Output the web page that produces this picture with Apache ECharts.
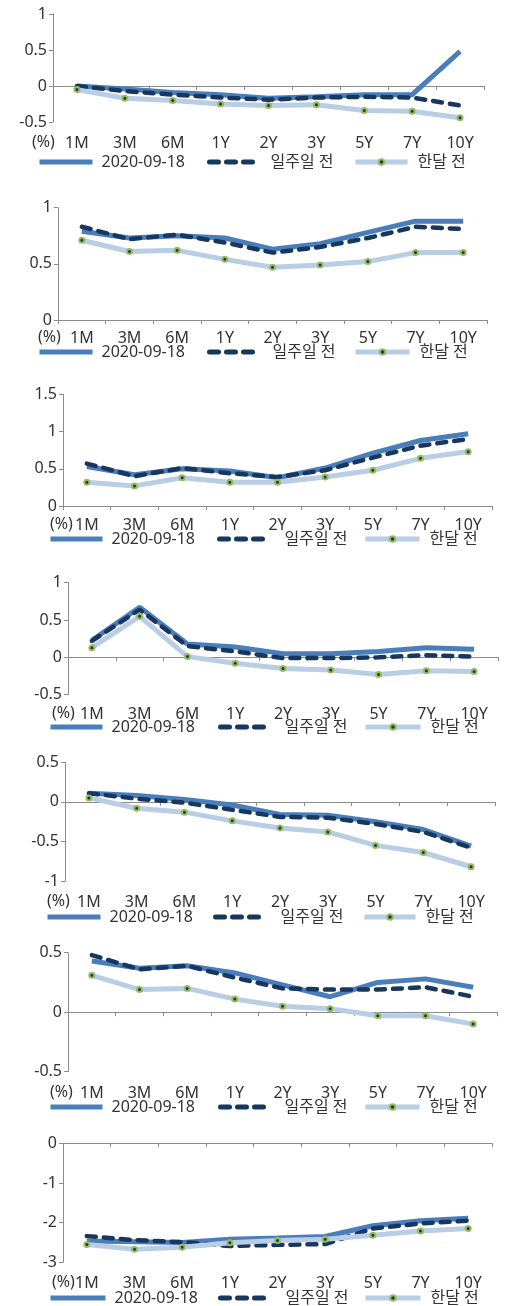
<!DOCTYPE html>
<html>
<head>
<meta charset="utf-8">
<script src="https://cdn.jsdelivr.net/npm/echarts@6/dist/echarts.min.js"></script>
<style>
html,body{margin:0;padding:0;background:#fff;}
#chart{width:505px;height:1306px;}
</style>
</head>
<body>
<div id="chart"></div>
<script>
// ---- data ----
const categories = ['1M','3M','6M','1Y','2Y','3Y','5Y','7Y','10Y'];
const seriesNames = ['2020-09-18','일주일 전','한달 전'];

const c1Now   = [0.00,-0.04,-0.09,-0.12,-0.17,-0.15,-0.12,-0.12,0.48];
const c1Week  = [0.00,-0.07,-0.12,-0.16,-0.19,-0.16,-0.15,-0.16,-0.27];
const c1Month = [-0.05,-0.17,-0.20,-0.25,-0.27,-0.26,-0.34,-0.35,-0.44];

const c2Now   = [0.79,0.73,0.75,0.73,0.63,0.68,0.78,0.88,0.88];
const c2Week  = [0.83,0.72,0.76,0.69,0.60,0.65,0.73,0.83,0.81];
const c2Month = [0.71,0.61,0.62,0.54,0.47,0.49,0.52,0.60,0.60];

const c3Now   = [0.53,0.42,0.50,0.47,0.38,0.51,0.71,0.88,0.97];
const c3Week  = [0.57,0.40,0.51,0.44,0.39,0.48,0.65,0.81,0.90];
const c3Month = [0.32,0.27,0.38,0.32,0.32,0.39,0.48,0.64,0.73];

const c4Now   = [0.23,0.67,0.18,0.14,0.05,0.05,0.08,0.13,0.11];
const c4Week  = [0.22,0.64,0.15,0.08,-0.01,-0.01,0.00,0.03,0.01];
const c4Month = [0.13,0.55,0.01,-0.08,-0.15,-0.17,-0.23,-0.18,-0.19];

const c5Now   = [0.11,0.08,0.03,-0.04,-0.16,-0.17,-0.25,-0.35,-0.56];
const c5Week  = [0.11,0.04,-0.01,-0.10,-0.19,-0.20,-0.28,-0.38,-0.58];
const c5Month = [0.05,-0.08,-0.13,-0.24,-0.33,-0.38,-0.55,-0.64,-0.82];

const c6Now   = [0.43,0.37,0.39,0.33,0.23,0.13,0.25,0.28,0.21];
const c6Week  = [0.48,0.36,0.39,0.29,0.20,0.19,0.19,0.21,0.13];
const c6Month = [0.31,0.19,0.20,0.11,0.05,0.03,-0.03,-0.03,-0.10];

const c7Now   = [-2.46,-2.48,-2.50,-2.42,-2.39,-2.35,-2.08,-1.95,-1.89];
const c7Week  = [-2.34,-2.44,-2.49,-2.59,-2.56,-2.54,-2.15,-2.02,-1.95];
const c7Month = [-2.55,-2.67,-2.62,-2.51,-2.45,-2.42,-2.32,-2.21,-2.15];

const yMins = [-0.5, 0, 0, -0.5, -1, -0.5, -3];
const yMaxs = [1, 1, 1.5, 1, 0.5, 0.5, 0];
const yIntervals = [0.5, 0.5, 0.5, 0.5, 0.5, 0.5, 1];
const unitLabel = '(%)';

const panels = [
  [c1Now,c1Week,c1Month],[c2Now,c2Week,c2Month],[c3Now,c3Week,c3Month],
  [c4Now,c4Week,c4Month],[c5Now,c5Week,c5Month],[c6Now,c6Week,c6Month],
  [c7Now,c7Week,c7Month]
];

// ---- layout ----
// [left, right edge, top, bottom, labelCenterY, legendCenterY, unitX]
const layout = [
  [53, 484, 14, 122, 143, 162, 32],
  [58, 487, 207.7, 320, 338, 352, 38],
  [63, 492, 394.3, 506, 525, 539, 50],
  [68, 498, 582.7, 694.7, 714, 727, 52],
  [65, 495, 762.3, 881, 902, 917, 47],
  [68, 497, 952.7, 1071.7, 1093, 1107, 50],
  [63, 492, 1143.3, 1262.3, 1283, 1298, 52]
];
// legend: [icon1Left, icon1W, icon2Left, icon2W, icon3Left, icon3W]
const legendPos = [
  [37,53,207,46,353,52],
  [37,53,207,48,353,54],
  [48,52,217,50,363,54],
  [48,52,218,49,363,55],
  [45,53,213,50,362,51],
  [48,52,218,49,363,54],
  [48,55,218,50,363,55]
];

const FONT = '"Noto Sans","Noto Sans CJK KR",sans-serif';
const TXT = '#333333';
const AXC = '#8c8c8c';
const COL_NOW = '#4a7ebb';
const COL_WEEK = '#17375e';
const COL_MONTH = '#b9cde5';
const COL_MARK = '#9bbb59';

const grid = [], xAxis = [], yAxis = [], series = [], legend = [], graphic = [];
layout.forEach((L, i) => {
  const [left, right, top, bottom, labY, legY, unitX] = L;
  grid.push({left: left, top: top, width: right - left, height: bottom - top, containLabel: false});
  xAxis.push({
    type: 'category', gridIndex: i, data: categories, boundaryGap: true, position: 'bottom',
    axisLine: {show: true, onZero: true, lineStyle: {color: AXC, width: 1}},
    axisTick: {show: true, length: 4, lineStyle: {color: AXC}},
    axisLabel: {show: false}, splitLine: {show: false}
  });
  xAxis.push({
    type: 'category', gridIndex: i, data: categories, boundaryGap: true, position: 'bottom',
    axisLine: {show: false, onZero: false}, axisTick: {show: false},
    axisLabel: {show: true, margin: labY - bottom - 8, fontSize: 16, lineHeight: 16, color: TXT, fontFamily: FONT},
    splitLine: {show: false}
  });
  yAxis.push({
    type: 'value', gridIndex: i, min: yMins[i], max: yMaxs[i], interval: yIntervals[i],
    axisLine: {show: true, lineStyle: {color: AXC, width: 1}},
    axisTick: {show: true, length: 4, lineStyle: {color: AXC}},
    axisLabel: {margin: 6, fontSize: 16, color: TXT, fontFamily: FONT},
    splitLine: {show: false}
  });
  const d = panels[i];
  series.push({
    name: seriesNames[0], type: 'line', xAxisIndex: i * 2, yAxisIndex: i, data: d[0],
    symbol: 'none', lineStyle: {color: COL_NOW, width: 5}, itemStyle: {color: COL_NOW},
    animation: false, z: 2
  });
  series.push({
    name: seriesNames[1], type: 'line', xAxisIndex: i * 2, yAxisIndex: i, data: d[1],
    symbol: 'none', lineStyle: {color: COL_WEEK, width: 4.5, type: [9, 8], cap: 'round'}, itemStyle: {color: COL_WEEK},
    animation: false, z: 3
  });
  series.push({
    name: seriesNames[2], type: 'line', xAxisIndex: i * 2, yAxisIndex: i, data: d[2],
    symbol: 'circle', symbolSize: 5, showSymbol: true,
    lineStyle: {color: COL_MONTH, width: 5},
    itemStyle: {color: COL_WEEK, borderColor: COL_MARK, borderWidth: 2},
    animation: false, z: 4
  });
  const P = legendPos[i];
  const pads = [4, 10, 5];
  const lineStyles = [
    {color: COL_NOW, width: 5, type: 'solid'},
    {color: COL_WEEK, width: 5, type: [9, 8], cap: 'round'},
    {color: COL_MONTH, width: 5, type: 'solid'}
  ];
  const itemStyles = [
    {color: 'rgba(0,0,0,0)', borderWidth: 0, opacity: 0},
    {color: 'rgba(0,0,0,0)', borderWidth: 0, opacity: 0},
    {color: COL_WEEK, borderColor: COL_MARK, borderWidth: 2}
  ];
  for (let k = 0; k < 3; k++) {
    legend.push({
      data: [seriesNames[k]], left: P[k * 2], top: legY - 8,
      itemWidth: P[k * 2 + 1], itemHeight: k === 2 ? 7 : 10, itemGap: 0, padding: 0,
      selectedMode: false,
      lineStyle: lineStyles[k], itemStyle: itemStyles[k],
      textStyle: {fontSize: 16, lineHeight: 16, color: TXT, fontFamily: FONT, padding: [0, 0, 0, pads[k]]}
    });
  }
  graphic.push({
    type: 'text', left: unitX, top: labY - 9,
    style: {text: unitLabel, fontSize: 16, fill: TXT, fontFamily: FONT}
  });
});

const chart = echarts.init(document.getElementById('chart'), null, {renderer: 'canvas'});
chart.setOption({
  animation: false,
  backgroundColor: '#ffffff',
  grid: grid, xAxis: xAxis, yAxis: yAxis, series: series, legend: legend, graphic: graphic
});
</script>
</body>
</html>
